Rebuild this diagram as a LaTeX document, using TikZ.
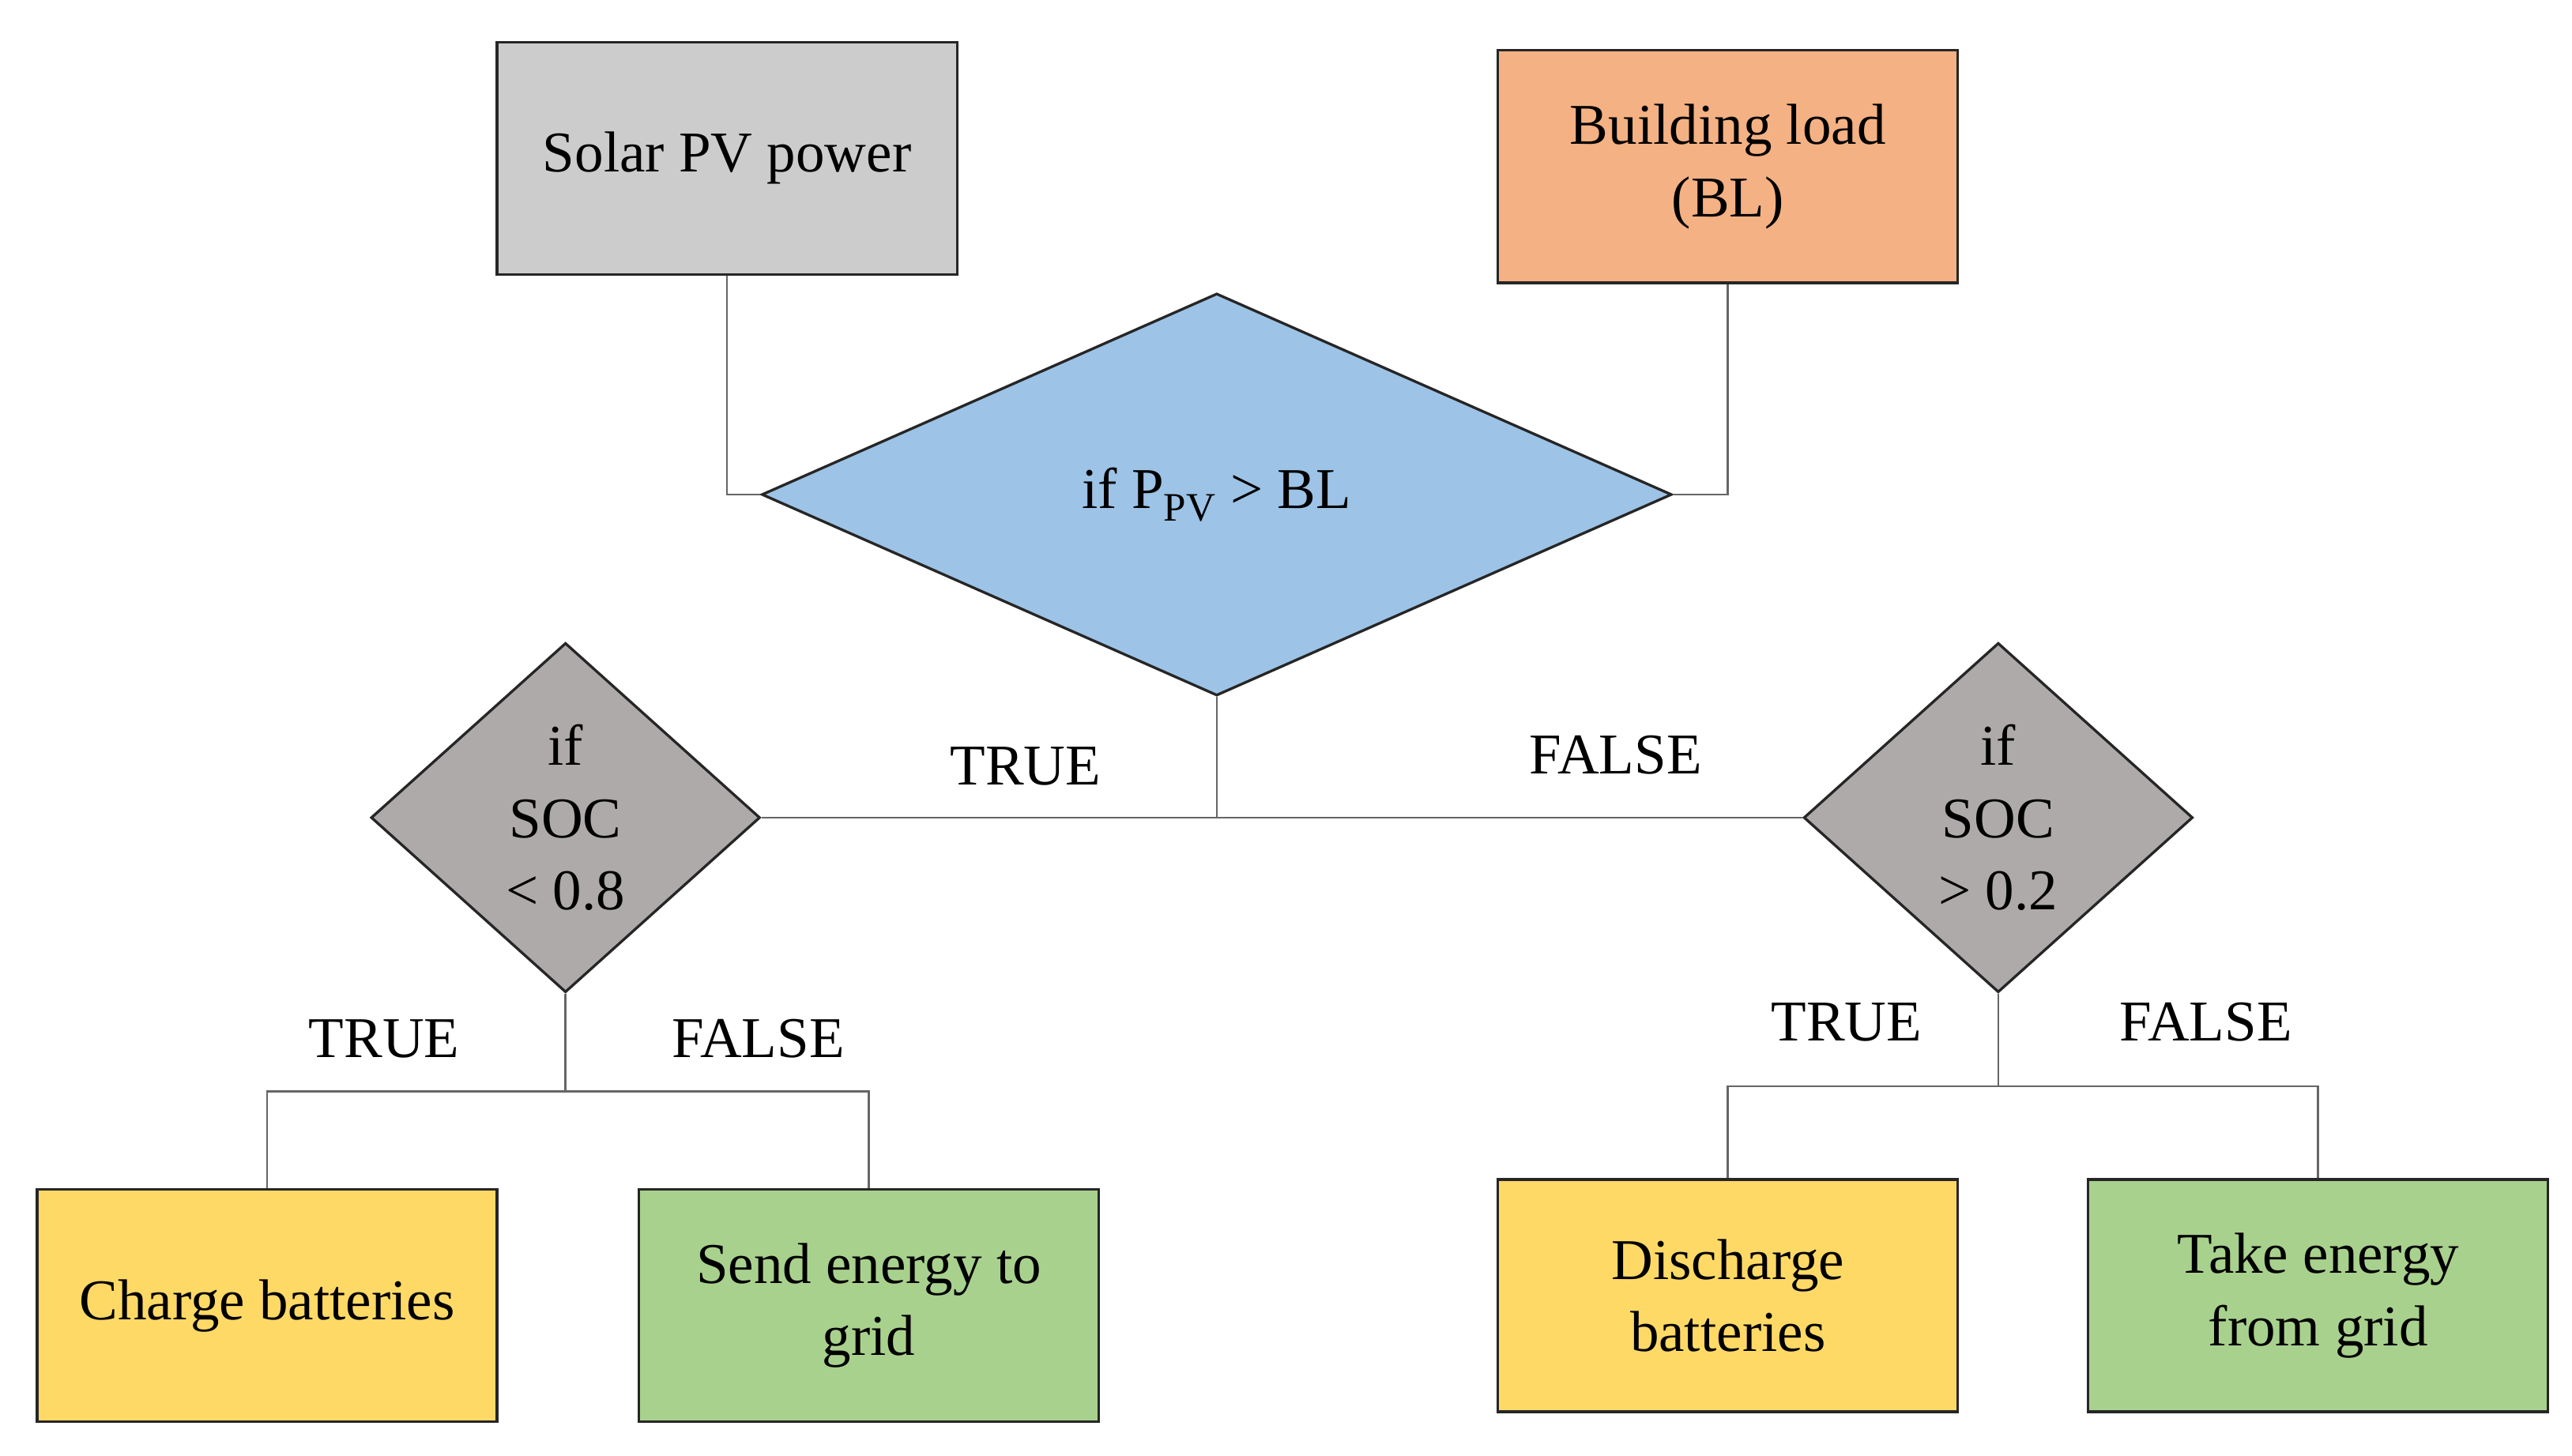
\documentclass[tikz,border=0pt]{standalone}
\usepackage{fontspec}
\setmainfont{Liberation Serif}
\usetikzlibrary{shapes.geometric}
\begin{document}
\begin{tikzpicture}[x=1pt,y=-1pt,
  every node/.style={font=\fontsize{35}{44}\selectfont},
  box/.style={draw=black!85,line width=1.6pt,minimum width=279pt,minimum height=141pt,align=center,inner sep=0pt},
  dia/.style={draw=black!85,line width=1.6pt,diamond,inner sep=0pt,align=center},
  con/.style={draw=black!60,line width=1.2pt},
  lab/.style={inner sep=0pt}]
\useasboundingbox (0,0) rectangle (1560,883);
\node[box,fill=gray!40] (pv) at (441,96) {Solar PV power};
\node[box,fill={rgb,255:red,244;green,177;blue,131}] (bl) at (1048,101) {Building load\\(BL)};
\node[dia,fill={rgb,255:red,157;green,195;blue,230},minimum width=552pt,minimum height=244pt] (d) at (738,300) {};
\node at (738,300) {if P\textsubscript{PV} > BL};
\node[dia,fill={rgb,255:red,174;green,170;blue,170},minimum width=236pt,minimum height=212pt] (dl) at (343,496) {};
\node[align=center] at (343,496) {if\\SOC\\< 0.8};
\node[dia,fill={rgb,255:red,174;green,170;blue,170},minimum width=236pt,minimum height=212pt] (dr) at (1212,496) {};
\node[align=center] at (1212,496) {if\\SOC\\> 0.2};
\node[box,fill={rgb,255:red,255;green,217;blue,102}] (cb) at (162,792) {Charge batteries};
\node[box,fill={rgb,255:red,169;green,209;blue,142}] (se) at (527,792) {Send energy to\\grid};
\node[box,fill={rgb,255:red,255;green,217;blue,102}] (db) at (1048,786) {Discharge\\batteries};
\node[box,fill={rgb,255:red,169;green,209;blue,142}] (te) at (1406,786) {Take energy\\from grid};
\coordinate (j0) at (738,496);
\coordinate (jl) at (343,662);
\coordinate (jr) at (1212,659);
\draw[con] (pv.south) |- (d.west);
\draw[con] (bl.south) |- (d.east);
\draw[con] (d.south) -- (j0);
\draw[con] (dl.east) -- (dr.west);
\draw[con] (dl.south) -- (jl);
\draw[con] (cb.north) |- (jl) -| (se.north);
\draw[con] (dr.south) -- (jr);
\draw[con] (db.north) |- (jr) -| (te.north);
\node[lab] at (622,465) {TRUE};
\node[lab] at (980,458) {FALSE};
\node[lab] at (233,630) {TRUE};
\node[lab] at (460,630) {FALSE};
\node[lab] at (1120,620) {TRUE};
\node[lab] at (1338,620) {FALSE};
\end{tikzpicture}
\end{document}
